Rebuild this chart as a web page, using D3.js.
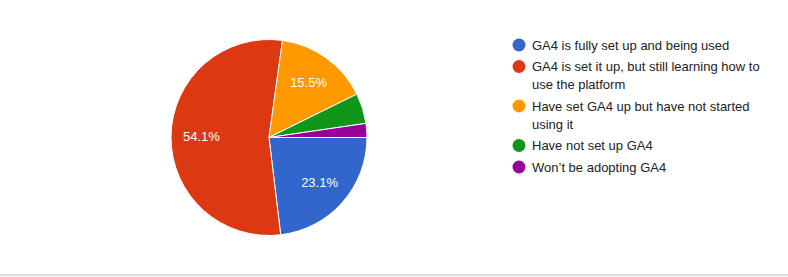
<!DOCTYPE html>
<html><head><meta charset="utf-8">
<script src="https://cdn.jsdelivr.net/npm/d3@7/dist/d3.min.js"></script>
<style>body{margin:0;background:#fff;}svg{display:block;font-family:Arial,"Liberation Sans",sans-serif;}</style>
</head><body>
<svg id="chart" width="788" height="277"></svg>
<script>
const categories = [
  "GA4 is fully set up and being used",
  "GA4 is set it up, but still learning how to use the platform",
  "Have set GA4 up but have not started using it",
  "Have not set up GA4",
  "Won\u2019t be adopting GA4"
];
const values = [23.1, 54.1, 15.5, 5.0, 2.3];
const colors = ["#3366cc", "#dc3912", "#ff9900", "#109618", "#990099"];

const svg = d3.select("#chart");
svg.append("rect").attr("x",0).attr("y",274).attr("width",788).attr("height",3).attr("fill","#e8e8e8");
svg.append("line").attr("x1",0).attr("x2",788).attr("y1",274.5).attr("y2",274.5).attr("stroke","#d6d6d6");

const cx = 269, cy = 137.5, r = 98;
const pie = d3.pie().sort(null).value(d => d).startAngle(Math.PI/2).endAngle(Math.PI/2 + 2*Math.PI);
const arcs = pie(values);
const arc = d3.arc().innerRadius(0).outerRadius(r);
const g = svg.append("g").attr("transform", `translate(${cx},${cy})`);
g.selectAll("path").data(arcs).enter().append("path")
  .attr("d", arc).attr("fill", (d,i) => colors[i])
  .attr("stroke", "#fff").attr("stroke-width", 1);

const labelArc = d3.arc().innerRadius(r*0.69).outerRadius(r*0.69);
g.selectAll("text").data(arcs.filter(d => d.data >= 10)).enter().append("text")
  .attr("transform", d => `translate(${labelArc.centroid(d)})`)
  .attr("text-anchor", "middle").attr("dy", "0.35em")
  .attr("fill", "#fff").attr("font-size", 13)
  .text(d => d.data.toFixed(1) + "%");

// legend
const lx = 519, tx = 532, maxW = 240, lineH = 18, rowGap = 3.5;
let y = 45;
const leg = svg.append("g");
categories.forEach((c, i) => {
  leg.append("circle").attr("cx", lx).attr("cy", y).attr("r", 6.5).attr("fill", colors[i]);
  const t = leg.append("text").attr("x", tx).attr("font-size", 13).attr("fill", "#222");
  const words = c.split(" ");
  let line = [], lines = [];
  const tmp = t.append("tspan");
  words.forEach(w => {
    line.push(w);
    tmp.text(line.join(" "));
    if (tmp.node().getComputedTextLength() > maxW && line.length > 1) {
      line.pop(); lines.push(line.join(" ")); line = [w];
    }
  });
  lines.push(line.join(" "));
  tmp.remove();
  lines.forEach((l, k) => {
    t.append("tspan").attr("x", tx).attr("y", y + k*lineH).attr("dy", "0.35em").text(l);
  });
  y += lines.length*lineH + rowGap;
});
</script>
</body></html>
